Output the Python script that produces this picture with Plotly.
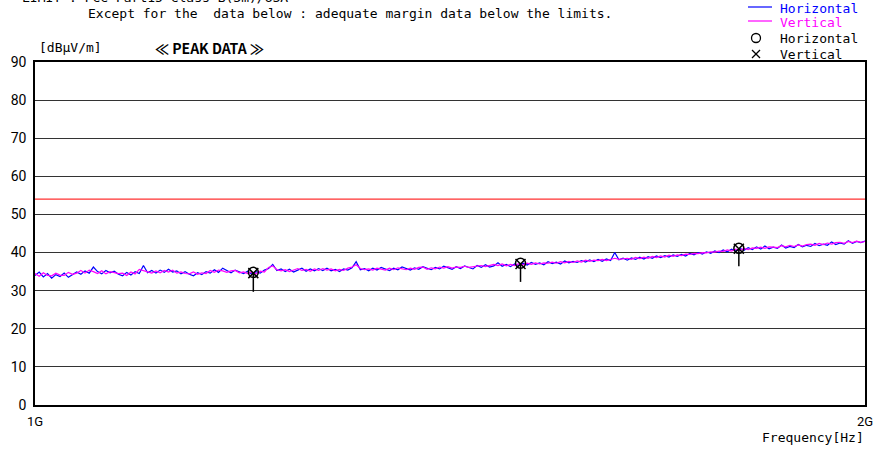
import numpy as np
import plotly.graph_objects as go

# ---- data ----
f_start_hz = 1e9
f_stop_hz = 2e9
n_points = 200

horizontal_dbuv = [
    34.0, 34.9, 33.6, 34.5, 33.3, 34.2, 33.7, 34.6, 33.5, 34.1,
    34.9, 34.3, 35.2, 34.6, 36.2, 35.0, 34.4, 35.3, 34.7, 35.1,
    34.3, 33.9, 34.8, 34.1, 35.0, 34.5, 36.6, 34.7, 35.3, 34.6,
    35.4, 34.8, 35.6, 34.9, 35.2, 34.4, 35.0, 34.3, 33.9, 34.7,
    34.2, 35.0, 34.6, 35.5, 34.8, 35.9, 35.2, 34.7, 35.4, 34.9,
    34.5, 35.1, 34.3, 35.0, 34.6, 35.4, 35.8, 36.9, 35.3, 35.7,
    35.0, 35.6, 34.9, 35.4, 35.9, 35.1, 35.7, 35.2, 35.8, 35.3,
    35.9, 35.2, 35.6, 35.0, 35.7, 35.4, 36.0, 37.6, 35.5, 35.8,
    35.2, 35.9, 35.4, 36.1, 35.6, 35.3, 35.9, 35.5, 36.2, 35.7,
    35.4, 36.0, 35.6, 36.3, 35.8, 35.5, 36.1, 35.7, 36.4, 35.9,
    35.6, 36.3, 35.8, 36.5, 36.0, 35.7, 36.6, 36.1, 36.8, 36.2,
    36.5, 37.3, 36.4, 36.9, 36.3, 37.0, 36.6, 37.2, 36.7, 37.4,
    36.9, 37.3, 36.8, 37.6, 37.1, 37.5, 37.0, 37.8, 37.3, 37.7,
    37.4, 37.9, 37.5, 38.1, 37.6, 38.2, 37.7, 38.3, 37.9, 40.0,
    38.1, 38.5, 38.0, 38.6, 38.2, 38.8, 38.3, 38.9, 38.5, 39.1,
    38.7, 39.2, 38.8, 39.4, 39.0, 39.5, 39.1, 39.8, 39.4, 40.0,
    39.6, 40.2, 39.8, 40.4, 40.0, 40.7, 40.2, 40.9, 40.4, 41.1,
    40.6, 41.3, 40.8, 41.5, 40.9, 41.7, 41.0, 41.4, 41.1, 42.0,
    41.2, 41.6, 41.3, 42.1, 41.5, 41.9, 41.6, 42.4, 41.8, 42.2,
    41.9, 42.8, 42.1, 42.5, 42.2, 43.1, 42.4, 42.9, 42.6, 43.0,
]

vertical_dbuv = [
    34.5, 33.8, 34.7, 34.0, 33.9, 34.6, 34.1, 34.0, 34.8, 34.3,
    34.6, 35.3, 34.6, 35.4, 35.0, 34.5, 35.2, 34.4, 35.0, 34.7,
    34.5, 34.6, 34.0, 34.9, 34.4, 35.6, 35.2, 34.8, 34.6, 35.2,
    34.7, 35.3, 34.9, 35.4, 34.6, 34.9, 34.5, 34.4, 34.9, 34.3,
    34.7, 34.5, 35.3, 34.8, 35.4, 35.2, 34.8, 35.2, 35.3, 34.7,
    34.9, 34.5, 34.9, 34.4, 35.1, 34.9, 36.1, 36.5, 35.5, 35.2,
    35.5, 35.0, 35.4, 35.8, 35.3, 35.6, 35.1, 35.7, 35.3, 35.8,
    35.4, 35.7, 35.2, 35.6, 35.3, 35.9, 36.2, 36.8, 35.8, 35.5,
    35.7, 35.4, 35.9, 35.6, 35.4, 35.9, 35.5, 36.0, 35.7, 35.5,
    35.9, 35.6, 36.1, 36.2, 35.6, 36.0, 35.7, 36.2, 35.9, 36.3,
    35.9, 36.2, 36.1, 36.4, 36.1, 36.3, 36.3, 36.6, 36.3, 36.7,
    36.9, 36.6, 37.0, 36.5, 36.9, 36.6, 37.1, 36.8, 37.2, 36.9,
    37.3, 37.0, 37.3, 37.2, 37.5, 37.2, 37.6, 37.3, 37.7, 37.4,
    37.8, 37.5, 38.0, 37.7, 38.0, 37.9, 38.2, 37.9, 38.3, 38.5,
    38.2, 38.3, 38.5, 38.2, 38.7, 38.4, 38.8, 38.5, 39.0, 38.7,
    39.1, 38.8, 39.3, 39.0, 39.4, 39.2, 39.6, 39.5, 39.8, 39.7,
    40.0, 39.9, 40.2, 40.1, 40.4, 40.3, 40.7, 40.4, 40.9, 40.6,
    41.1, 40.8, 41.2, 41.1, 41.4, 41.1, 41.5, 41.4, 41.3, 41.8,
    41.5, 41.9, 41.6, 42.0, 41.7, 42.1, 42.2, 41.9, 42.4, 42.1,
    42.5, 42.2, 42.6, 42.7, 42.4, 42.9, 42.6, 43.0, 42.7, 42.9,
]

limit_dbuv = 54.0

peak_freq_hz = [1.2e9, 1.5e9, 1.8e9]
peak_horizontal_dbuv = [34.8, 37.2, 41.1]
peak_vertical_dbuv = [34.6, 37.0, 41.0]
peak_lower_dbuv = [29.7, 32.3, 36.4]

y_ticks = [0, 10, 20, 30, 40, 50, 60, 70, 80, 90]
x_tick_vals = [1e9, 2e9]
x_tick_text = ["1G", "2G"]

freq_hz = np.geomspace(f_start_hz, f_stop_hz, n_points)

MONO = "DejaVu Sans Mono"
BLUE = "#0000FF"
MAGENTA = "#FF00FF"
RED = "#FF3030"

L, R, T, B = 35, 10, 62, 45
W, H = 875, 450
PW, PH = W - L - R, H - T - B

fig = go.Figure()

fig.add_trace(go.Scatter(x=[f_start_hz, f_stop_hz], y=[limit_dbuv, limit_dbuv],
                         mode="lines", line=dict(color=RED, width=1.2), hoverinfo="skip"))
fig.add_trace(go.Scatter(x=freq_hz, y=horizontal_dbuv, mode="lines",
                         line=dict(color=BLUE, width=1.2)))
fig.add_trace(go.Scatter(x=freq_hz, y=vertical_dbuv, mode="lines",
                         line=dict(color=MAGENTA, width=1.2)))

# vertical stems under peaks
sx, sy = [], []
for f, hi, lo in zip(peak_freq_hz, peak_horizontal_dbuv, peak_lower_dbuv):
    sx += [f, f, None]
    sy += [hi, lo, None]
fig.add_trace(go.Scatter(x=sx, y=sy, mode="lines", line=dict(color="black", width=1.5)))

fig.add_trace(go.Scatter(x=peak_freq_hz, y=peak_horizontal_dbuv, mode="markers",
                         marker=dict(symbol="circle-open", size=10, color="black",
                                     line=dict(width=1.5, color="black"))))
fig.add_trace(go.Scatter(x=peak_freq_hz, y=peak_vertical_dbuv, mode="markers",
                         marker=dict(symbol="x-thin-open", size=10, color="black",
                                     line=dict(width=1.5, color="black"))))

fig.update_layout(
    width=W, height=H,
    margin=dict(l=L, r=R, t=T, b=B, autoexpand=False),
    paper_bgcolor="white", plot_bgcolor="white",
    showlegend=False,
    font=dict(family=MONO, size=13, color="black"),
)

fig.update_xaxes(
    type="log", range=[np.log10(f_start_hz), np.log10(f_stop_hz)],
    tickvals=x_tick_vals, ticktext=x_tick_text, ticks="",
    showgrid=False, zeroline=False, automargin=False,
    showline=True, linecolor="black", linewidth=1.5, mirror=True,
    tickfont=dict(family="Roboto", size=13, color="black"),
    ticklabelstandoff=4,
)
fig.update_yaxes(
    range=[0, 90], tickvals=y_ticks, ticks="",
    showgrid=True, gridcolor="#333333", gridwidth=1,
    zeroline=False, automargin=False,
    showline=True, linecolor="black", linewidth=1.5, mirror=True,
    tickfont=dict(family="Roboto", size=14, color="black"),
    ticklabelstandoff=4,
)


def px(xp):
    return (xp - L) / PW


def py(yp_top):
    # yp_top measured from the top of the page
    return (H - yp_top - B) / PH


ann = []


def add_text(text, xp, yp_top, xanchor="left", **font):
    f = dict(family=MONO, size=13, color="black")
    f.update(font)
    ann.append(dict(text=text, x=px(xp), y=py(yp_top), xref="paper", yref="paper",
                    xanchor=xanchor, yanchor="middle", showarrow=False, font=f))


add_text("LIMIT : FCC Part15 Class B(3m)/USA", 20, -2)
add_text("Except for the  data below : adequate margin data below the limits.", 86, 14)
add_text("[dBμV/m]", 37, 48)
add_text("<b>≪ PEAK DATA ≫</b>", 153, 48, family="Noto Sans CJK JP", size=14)
add_text("Frequency[Hz]", 866, 438, xanchor="right")
add_text("Horizontal", 778, 8, color=BLUE)
add_text("Vertical", 778, 23, color=MAGENTA)
add_text("Horizontal", 778, 39)
add_text("Vertical", 778, 55)
fig.update_layout(annotations=ann)

# legend samples
fig.add_shape(type="line", xref="paper", yref="paper", x0=px(748), x1=px(772),
              y0=py(7), y1=py(7), line=dict(color=BLUE, width=1.2))
fig.add_shape(type="line", xref="paper", yref="paper", x0=px(748), x1=px(772),
              y0=py(21), y1=py(21), line=dict(color=MAGENTA, width=1.2))
fig.add_shape(type="circle", xref="paper", yref="paper", x0=px(751.5), x1=px(760.5),
              y0=py(33.5), y1=py(42.5), line=dict(color="black", width=1.3))
fig.add_shape(type="line", xref="paper", yref="paper", x0=px(752), x1=px(760),
              y0=py(50), y1=py(58), line=dict(color="black", width=1.2))
fig.add_shape(type="line", xref="paper", yref="paper", x0=px(752), x1=px(760),
              y0=py(58), y1=py(50), line=dict(color="black", width=1.2))

fig.write_html("out.html", config={"displayModeBar": False},
               post_script="document.body.style.margin='0';document.body.style.padding='0';")
